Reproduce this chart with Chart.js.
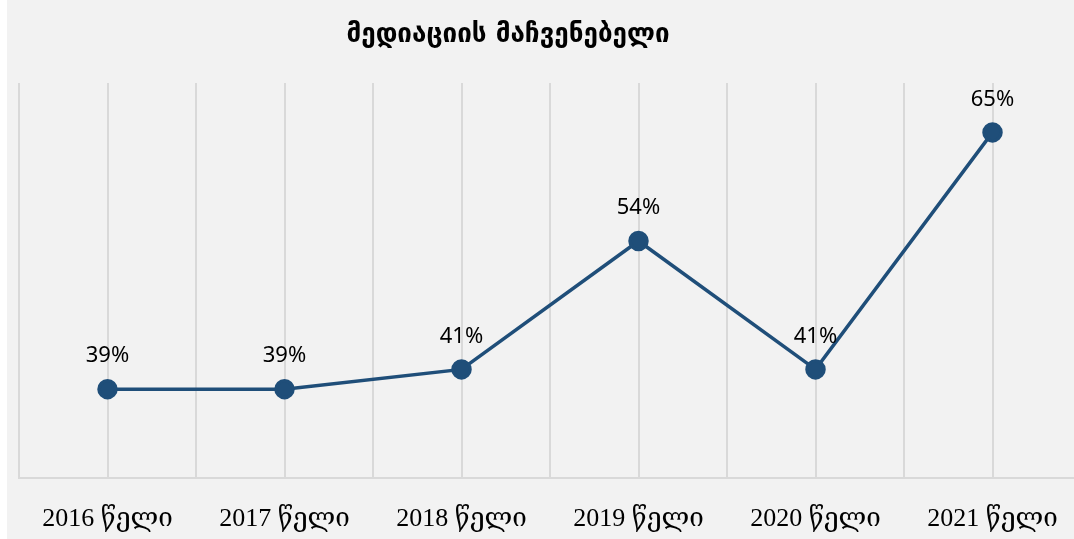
<!DOCTYPE html>
<html lang="ka">
<head>
<meta charset="UTF-8">
<title>მედიაციის მაჩვენებელი</title>
<script src="https://cdn.jsdelivr.net/npm/chart.js"></script>
<style>
    html, body {
        margin: 0;
        padding: 0;
        background: #ffffff;
        overflow: hidden;
    }
    .wrap {
        position: absolute;
        left: 7px;
        top: 0;
        width: 1090px;
        height: 539px;
        background: #f2f2f2;
    }
</style>
</head>
<body>
<div class="wrap">
    <canvas id="chart" width="1090" height="539"></canvas>
</div>
<script>
    const chartTitle = 'მედიაციის მაჩვენებელი';
    const years = ['2016 წელი', '2017 წელი', '2018 წელი', '2019 წელი', '2020 წელი', '2021 წელი'];
    const mediationRate = [39, 39, 41, 54, 41, 65];

    // value labels above the points + title (drawn by hand, no plugin available offline)
    const labelsPlugin = {
        id: 'pointLabels',
        afterDatasetsDraw(chart) {
            const ctx = chart.ctx;
            const meta = chart.getDatasetMeta(0);
            ctx.save();
            ctx.fillStyle = '#000000';
            ctx.font = '22px "Noto Sans", "Open Sans", sans-serif';
            ctx.textAlign = 'center';
            ctx.textBaseline = 'middle';
            meta.data.forEach((pt, i) => {
                ctx.fillText(mediationRate[i] + '%', pt.x, pt.y - 33);
            });
            ctx.font = 'bold 26px "DejaVu Sans", sans-serif';
            ctx.fillText(chartTitle, 501, 35);
            ctx.restore();
        }
    };

    new Chart(document.getElementById('chart'), {
        type: 'line',
        data: {
            labels: years,
            datasets: [{
                data: mediationRate,
                borderColor: '#1f4e79',
                backgroundColor: '#1f4e79',
                borderWidth: 3.5,
                pointRadius: 8.5,
                pointBackgroundColor: '#1f4e79',
                pointBorderColor: '#1f4e79',
                tension: 0
            }]
        },
        options: {
            responsive: false,
            animation: false,
            layout: {
                padding: { left: 11, right: 16, top: 83, bottom: 0 }
            },
            plugins: {
                legend: { display: false },
                tooltip: { enabled: false }
            },
            scales: {
                x: {
                    type: 'category',
                    offset: true,
                    afterFit(scale) { scale.height = 61; },
                    grid: {
                        offset: false,
                        color: '#d9d9d9',
                        lineWidth: 2,
                        drawTicks: false
                    },
                    border: { color: '#d9d9d9', width: 2 },
                    ticks: {
                        color: '#000000',
                        padding: 26,
                        font: { family: '"Liberation Serif", "DejaVu Serif", serif', size: 26 }
                    }
                },
                x2: {
                    type: 'category',
                    labels: years,
                    position: 'top',
                    offset: true,
                    grid: {
                        offset: true,
                        color: '#d9d9d9',
                        lineWidth: 2,
                        drawTicks: false
                    },
                    border: { display: false },
                    ticks: { display: false }
                },
                y: {
                    display: false,
                    min: 30,
                    max: 70
                }
            }
        },
        plugins: [labelsPlugin]
    });
</script>
</body>
</html>
